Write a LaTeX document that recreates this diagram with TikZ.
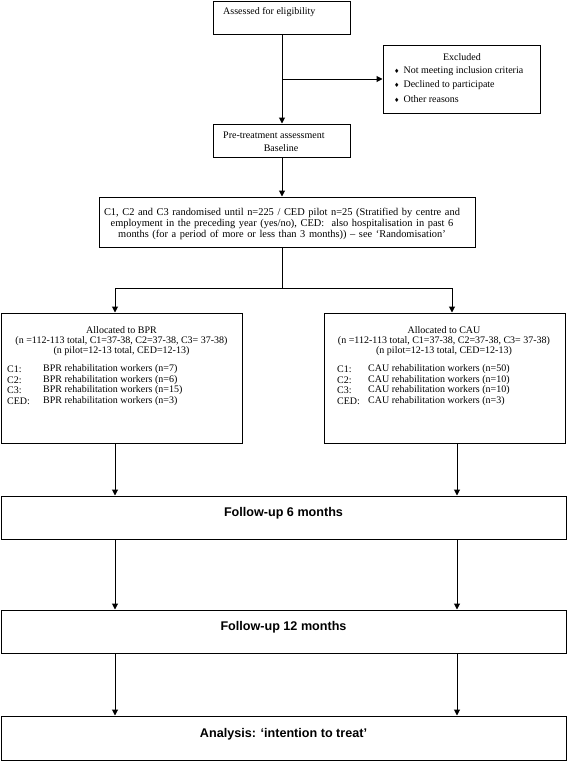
\documentclass[tikz,border=0pt]{standalone}
\usepackage{fontspec}
\setmainfont{Liberation Serif}
\newfontfamily\hdfont{Liberation Sans}
\newfontfamily\symfont{DejaVu Sans}
\usetikzlibrary{arrows.meta}
\newcommand{\bul}{{\symfont\fontsize{6}{6}\selectfont ♦}}
\newcommand{\randfont}{\fontsize{10.4}{11.3}\selectfont\spaceskip=3.6pt plus 1pt\relax}
\begin{document}
\begin{tikzpicture}[x=1pt,y=-1pt,
  box/.style={draw,line width=1pt,inner sep=0pt,fill=none},
  txt/.style={inner sep=0pt,font=\fontsize{10}{11}\selectfont},
  hd/.style={inner sep=0pt,font=\hdfont\bfseries\fontsize{12.6}{14}\selectfont},
  conn/.style={line width=1pt},
  arr/.style={line width=1pt,-{Triangle[length=6pt,width=6pt]}}]
\useasboundingbox (0,0) rectangle (567,761);
% boxes
\node[box,minimum width=137pt,minimum height=33pt] (assess) at (281.5,17.5) {};
\node[box,minimum width=157pt,minimum height=68pt] (excl) at (461.5,79) {};
\node[box,minimum width=137pt,minimum height=33pt] (pre) at (281.5,140.5) {};
\node[box,minimum width=376pt,minimum height=50pt] (rand) at (287,222) {};
\node[box,minimum width=241pt,minimum height=130pt] (bpr) at (121.5,378) {};
\node[box,minimum width=241pt,minimum height=130pt] (cau) at (444.5,378) {};
\node[box,minimum width=565pt,minimum height=43pt] (fu6) at (283.5,517.5) {};
\node[box,minimum width=565pt,minimum height=43pt] (fu12) at (283.5,631.5) {};
\node[box,minimum width=565pt,minimum height=44pt] (ana) at (283.5,738) {};
% texts
\node[txt,anchor=west] (tassess) at (223,12) {Assessed for eligibility};
\node[txt] (texcl) at (462,57) {Excluded};
\node[txt,anchor=west] (tex1) at (394,71) {\bul\hspace{4pt}Not meeting inclusion criteria};
\node[txt,anchor=west] (tex2) at (394,85) {\bul\hspace{4pt}Declined to participate};
\node[txt,anchor=west] (tex3) at (394,99) {\bul\hspace{4pt}Other reasons};
\node[txt,anchor=west] (tpre1) at (223,135) {Pre-treatment assessment};
\node[txt] (tpre2) at (281,148) {Baseline};
\node[txt,align=center,font=\randfont] (trand) at (282,224) {C1, C2 and C3 randomised until n=225 / CED pilot n=25 (Stratified by centre and\\
employment in the preceding year (yes/no), CED:\ \ also hospitalisation in past 6\\
months (for a period of more or less than 3 months)) – see ‘Randomisation’};
% BPR
\node[txt] (b1) at (121.5,330) {Allocated to BPR};
\node[txt] (b2) at (121.5,341) {(n =112-113 total, C1=37-38, C2=37-38, C3= 37-38)};
\node[txt] (b3) at (121.5,351) {(n pilot=12-13 total, CED=12-13)};
\node[txt,anchor=west] (bl1) at (7,369) {C1:};
\node[txt,anchor=west] (bl2) at (7,380) {C2:};
\node[txt,anchor=west] (bl3) at (7,390) {C3:};
\node[txt,anchor=west] (bl4) at (7,401) {CED:};
\node[txt,anchor=west] (bt1) at (43,369) {BPR rehabilitation workers (n=7)};
\node[txt,anchor=west] (bt2) at (43,380) {BPR rehabilitation workers (n=6)};
\node[txt,anchor=west] (bt3) at (43,390) {BPR rehabilitation workers (n=15)};
\node[txt,anchor=west] (bt4) at (43,401) {BPR rehabilitation workers (n=3)};
% CAU
\node[txt] (c1) at (444,330) {Allocated to CAU};
\node[txt] (c2) at (444,341) {(n =112-113 total, C1=37-38, C2=37-38, C3= 37-38)};
\node[txt] (c3) at (444,351) {(n pilot=12-13 total, CED=12-13)};
\node[txt,anchor=west] (cl1) at (337,369) {C1:};
\node[txt,anchor=west] (cl2) at (337,380) {C2:};
\node[txt,anchor=west] (cl3) at (337,390) {C3:};
\node[txt,anchor=west] (cl4) at (337,401) {CED:};
\node[txt,anchor=west] (ct1) at (368,369) {CAU rehabilitation workers (n=50)};
\node[txt,anchor=west] (ct2) at (368,380) {CAU rehabilitation workers (n=10)};
\node[txt,anchor=west] (ct3) at (368,390) {CAU rehabilitation workers (n=10)};
\node[txt,anchor=west] (ct4) at (368,401) {CAU rehabilitation workers (n=3)};
% follow-ups
\node[hd] (tfu6) at (283.5,513) {Follow-up 6 months};
\node[hd] (tfu12) at (283.5,627) {Follow-up 12 months};
\node[hd] (tana) at (283.5,734) {Analysis: ‘intention to treat’};
% connectors
\coordinate (br) at (282,79);
\coordinate (split) at (282,288);
\coordinate (splitL) at (115,288);
\coordinate (splitR) at (452,288);
\draw[arr] (assess.south -| br) -- (pre.north -| br);
\draw[arr] (br) -- (excl.west);
\draw[arr] (pre.south -| br) -- (rand.north -| br);
\draw[conn] (rand.south -| split) -- (split);
\draw[conn] (splitL) -- (splitR);
\draw[arr] (splitL) -- (bpr.north -| splitL);
\draw[arr] (splitR) -- (cau.north -| splitR);
\coordinate (colL) at (115,0);
\coordinate (colR) at (457,0);
\draw[arr] (bpr.south -| colL) -- (fu6.north -| colL);
\draw[arr] (cau.south -| colR) -- (fu6.north -| colR);
\draw[arr] (fu6.south -| colL) -- (fu12.north -| colL);
\draw[arr] (fu6.south -| colR) -- (fu12.north -| colR);
\draw[arr] (fu12.south -| colL) -- (ana.north -| colL);
\draw[arr] (fu12.south -| colR) -- (ana.north -| colR);
\end{tikzpicture}
\end{document}
